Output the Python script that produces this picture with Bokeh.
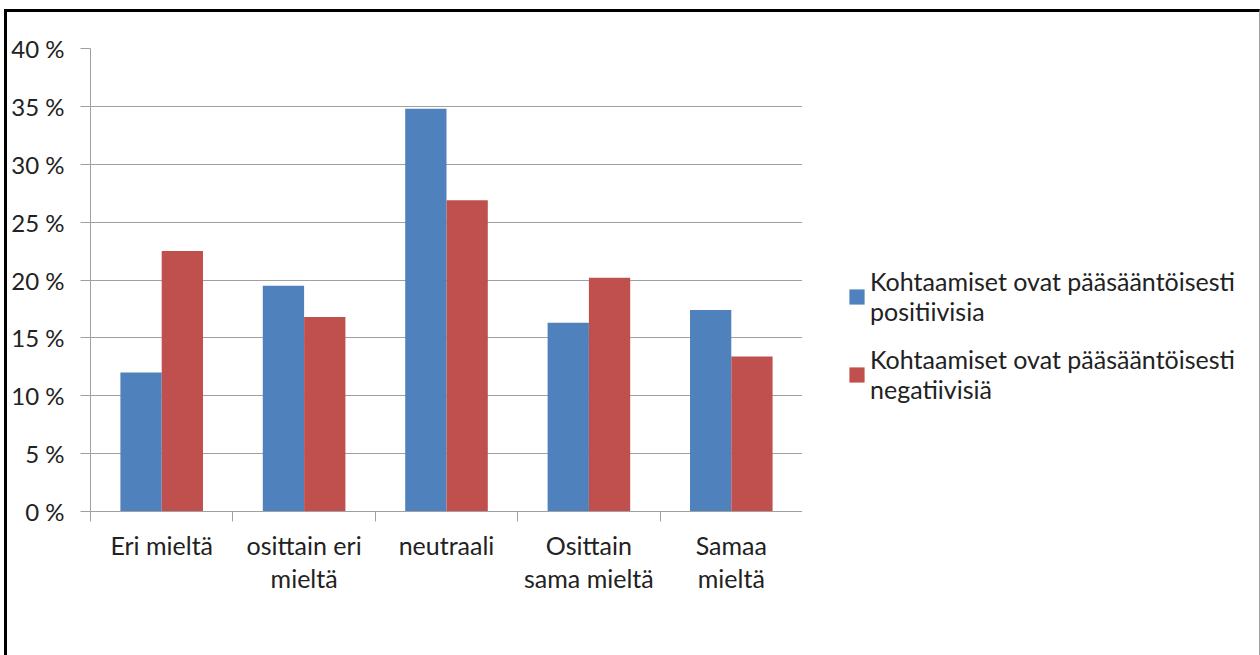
from bokeh.plotting import figure
from bokeh.layouts import row
from bokeh.models import (ColumnDataSource, Range1d, FixedTicker, SingleIntervalTicker,
                          CustomJSTickFormatter, PrintfTickFormatter, Legend, LegendItem)
from bokeh.transform import dodge
from bokeh.embed import file_html
from bokeh.resources import INLINE

categories = ["Eri mieltä", "osittain eri\nmieltä", "neutraali", "Osittain\nsama mieltä", "Samaa\nmieltä"]
positive = [12.0, 19.5, 34.8, 16.3, 17.4]
negative = [22.5, 16.8, 26.9, 20.2, 13.4]
series_names = ["Kohtaamiset ovat pääsääntöisesti\npositiivisia",
                "Kohtaamiset ovat pääsääntöisesti\nnegatiivisiä"]
colors = ["#4F81BD", "#C0504D"]

n = len(categories)
centers = [i + 0.5 for i in range(n)]
src = ColumnDataSource(dict(pos=centers, positive=positive, negative=negative))

FONT = "Lato"
GRID = "#a0a0a0"
TEXT = "#222222"
H = 643
bw = 0.29

p = figure(width=795, height=H, output_backend="svg", toolbar_location=None,
           x_range=Range1d(0, n), y_range=Range1d(0, 40),
           min_border_left=83, min_border_right=0, min_border_top=36, min_border_bottom=144)
p.outline_line_color = None
p.background_fill_color = "white"
p.border_fill_color = "white"

r1 = p.vbar(x=dodge("pos", -bw / 2), top="positive", width=bw, source=src,
            fill_color=colors[0], line_color=None)
r2 = p.vbar(x=dodge("pos", bw / 2), top="negative", width=bw, source=src,
            fill_color=colors[1], line_color=None)

# x axis: labels at category centers, tick marks at boundaries
p.xaxis.ticker = FixedTicker(ticks=centers, minor_ticks=list(range(n + 1)))
p.xaxis.formatter = CustomJSTickFormatter(args=dict(labels=categories),
                                          code="return labels[Math.floor(tick)] || '';")
p.xaxis.major_tick_out = 0
p.xaxis.major_tick_in = 0
p.xaxis.minor_tick_out = 10
p.xaxis.minor_tick_in = 0
p.xaxis.minor_tick_line_color = GRID
p.xaxis.axis_line_color = GRID
p.xaxis.major_label_text_font = FONT
p.xaxis.major_label_text_font_size = "25px"
p.xaxis.major_label_text_color = TEXT
p.xaxis.major_label_text_line_height = 1.1
p.xaxis.major_label_standoff = 8
p.xgrid.grid_line_color = None

# y axis
p.yaxis.ticker = SingleIntervalTicker(interval=5, num_minor_ticks=0)
p.yaxis.formatter = PrintfTickFormatter(format="%d %%")
p.yaxis.major_tick_out = 10
p.yaxis.major_tick_in = 0
p.yaxis.major_tick_line_color = GRID
p.yaxis.minor_tick_line_color = None
p.yaxis.axis_line_color = GRID
p.yaxis.major_label_text_font = FONT
p.yaxis.major_label_text_font_size = "24px"
p.yaxis.major_label_text_color = TEXT
p.yaxis.major_label_standoff = 16
p.ygrid.grid_line_color = GRID
p.ygrid.grid_line_width = 1

# legend panel (same series, hidden renderers used only for legend keys)
lp = figure(width=457, height=H, output_backend="svg", toolbar_location=None,
            x_range=Range1d(0, n), y_range=Range1d(0, 40),
            min_border_left=0, min_border_right=0, min_border_top=0, min_border_bottom=0)
lp.axis.visible = False
lp.grid.visible = False
lp.outline_line_color = None
lp.background_fill_color = "white"
lp.border_fill_color = "white"
k1 = lp.vbar(x=dodge("pos", -bw / 2), top="positive", width=bw, source=src,
             fill_color=colors[0], line_color=None, visible=False)
k2 = lp.vbar(x=dodge("pos", bw / 2), top="negative", width=bw, source=src,
             fill_color=colors[1], line_color=None, visible=False)

legend = Legend(items=[LegendItem(label=series_names[0], renderers=[k1]),
                       LegendItem(label=series_names[1], renderers=[k2])],
                location=(45, 107), orientation="vertical",
                border_line_color=None, background_fill_alpha=0,
                inactive_fill_alpha=0,
                label_text_font=FONT, label_text_font_size="25px",
                label_text_color=TEXT, label_text_line_height=1.17,
                glyph_width=19, glyph_height=19, label_standoff=4,
                spacing=18, padding=0, margin=0)
lp.add_layout(legend, "center")

layout = row(p, lp, spacing=0)
layout.styles = {"margin-left": "4px", "margin-top": "9px",
                 "border-top": "3px solid #000", "border-left": "3px solid #000",
                 "border-right": "1px solid #a0a0a0"}

open("out.html", "w").write(file_html(layout, INLINE))
